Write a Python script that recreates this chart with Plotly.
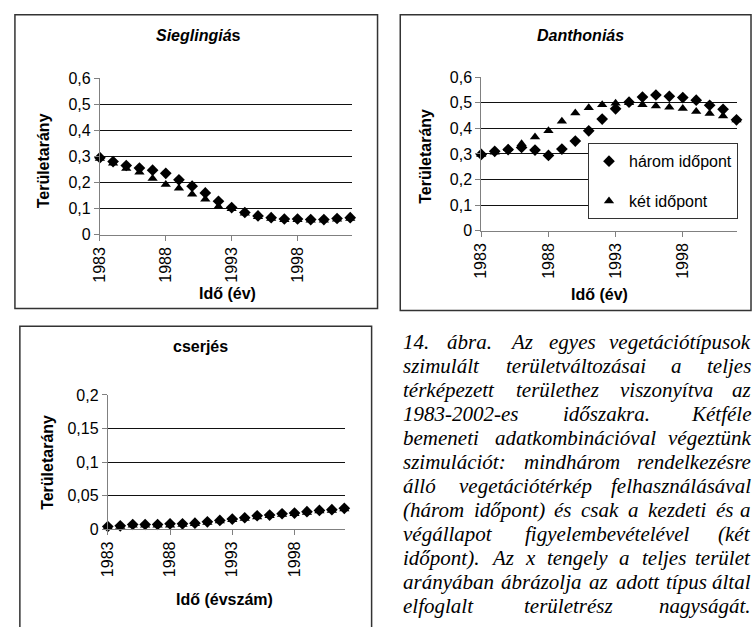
import plotly.graph_objects as go

# ---------------- data ----------------
years = list(range(1983, 2003))

sieg_harom = [0.295, 0.280, 0.265, 0.255, 0.247, 0.235, 0.210, 0.186, 0.160, 0.128,
              0.104, 0.085, 0.072, 0.065, 0.060, 0.060, 0.058, 0.058, 0.062, 0.065]
sieg_ket = [0.292, 0.274, 0.254, 0.239, 0.215, 0.192, 0.178, 0.155, 0.136, 0.108,
            0.099, 0.082, 0.069, 0.062, 0.057, 0.057, 0.055, 0.055, 0.059, 0.062]

danth_harom = [0.298, 0.310, 0.317, 0.325, 0.315, 0.294, 0.319, 0.350, 0.390, 0.436,
               0.476, 0.502, 0.522, 0.530, 0.525, 0.520, 0.510, 0.490, 0.474, 0.433]
danth_ket = [0.298, 0.307, 0.320, 0.340, 0.366, 0.390, 0.428, 0.460, 0.480, 0.492,
             0.498, 0.500, 0.492, 0.487, 0.482, 0.477, 0.466, 0.458, 0.448, 0.432]

cserj_harom = [0.004, 0.005, 0.007, 0.007, 0.007, 0.008, 0.008, 0.009, 0.011, 0.013,
               0.015, 0.017, 0.020, 0.021, 0.023, 0.024, 0.026, 0.028, 0.029, 0.031]
cserj_ket = [0.003, 0.004, 0.006, 0.006, 0.006, 0.006, 0.007, 0.008, 0.010, 0.012,
             0.014, 0.016, 0.018, 0.020, 0.022, 0.023, 0.025, 0.027, 0.028, 0.030]

x_tickvals = [1983, 1988, 1993, 1998]
x_ticktext = ["1983", "1988", "1993", "1998"]
y_tickvals_a = [0, 0.1, 0.2, 0.3, 0.4, 0.5, 0.6]
y_ticktext_a = ["0", "0,1", "0,2", "0,3", "0,4", "0,5", "0,6"]
y_tickvals_c = [0, 0.05, 0.1, 0.15, 0.2]
y_ticktext_c = ["0", "0,05", "0,1", "0,15", "0,2"]

series_names = ["három időpont", "két időpont"]
chart_titles = ["<i>Sieglingiá</i>s", "<i>Danthoniás</i>", "cserjés"]
y_title = "Területarány"
x_titles = ["Idő (év)", "Idő (év)", "Idő (évszám)"]

caption_lines = [
    "14. ábra. Az egyes vegetációtípusok",
    "szimulált területváltozásai a teljes",
    "térképezett területhez viszonyítva az",
    "1983-2002-es időszakra. Kétféle",
    "bemeneti adatkombinációval végeztünk",
    "szimulációt: mindhárom rendelkezésre",
    "álló vegetációtérkép felhasználásával",
    "(három időpont) és csak a kezdeti és a",
    "végállapot figyelembevételével (két",
    "időpont). Az x tengely a teljes terület",
    "arányában ábrázolja az adott típus által",
    "elfoglalt területrész nagyságát.",
]

# ---------------- layout helpers ----------------
W, H = 752, 627
SANS = "Liberation Sans, Arial, sans-serif"
SERIF = "Liberation Serif, Times New Roman, serif"


def px(x):
    return x / W


def py(y):
    return 1 - y / H


fig = go.Figure()

marker_d = dict(symbol="diamond", size=9, color="black")
marker_t = dict(symbol="triangle-up", size=9, color="black")

panels = [
    (sieg_harom, sieg_ket, "x", "y", False),
    (danth_harom, danth_ket, "x2", "y2", True),
    (cserj_harom, cserj_ket, "x3", "y3", False),
]
for h, k, xa, ya, leg in panels:
    fig.add_trace(go.Scatter(x=years, y=k, mode="markers", marker=marker_t,
                             name=series_names[1], xaxis=xa, yaxis=ya,
                             showlegend=leg, legendgroup="b", legendrank=2,
                             cliponaxis=False))
    fig.add_trace(go.Scatter(x=years, y=h, mode="markers", marker=marker_d,
                             name=series_names[0], xaxis=xa, yaxis=ya,
                             showlegend=leg, legendgroup="a", legendrank=1,
                             cliponaxis=False))

tickfont = dict(family=SANS, size=16, color="black")


def xaxis(dom, endx):
    return dict(domain=dom, range=[1983, endx], tickvals=x_tickvals, ticktext=x_ticktext,
                tickangle=-90, showline=True, linecolor="#808080", linewidth=1,
                ticks="outside", ticklen=5, tickcolor="#808080", showgrid=False,
                zeroline=False, tickfont=tickfont, fixedrange=True)


def yaxis(dom, rng, tv, tt, anchor):
    return dict(domain=dom, range=rng, tickvals=tv, ticktext=tt, anchor=anchor,
                showline=True, linecolor="#808080", linewidth=1, ticks="outside",
                ticklen=5, tickcolor="#808080", showgrid=True, gridcolor="#111",
                gridwidth=1, zeroline=False, tickfont=tickfont, fixedrange=True)


fig.update_layout(
    width=W, height=H, margin=dict(l=0, r=0, t=0, b=0),
    paper_bgcolor="white", plot_bgcolor="white",
    xaxis=dict(xaxis([px(92), px(346.7)], 2002.1), anchor="y"),
    yaxis=yaxis([py(233), py(72)], [0, 0.6], y_tickvals_a, y_ticktext_a, "x"),
    xaxis2=dict(xaxis([px(478), px(737)], 2002.05), anchor="y2"),
    yaxis2=yaxis([py(229), py(71)], [0, 0.6], y_tickvals_a, y_ticktext_a, "x2"),
    xaxis3=dict(xaxis([px(100), px(340)], 2002.05), anchor="y3"),
    yaxis3=yaxis([py(535.7), py(397.7)], [0, 0.2], y_tickvals_c, y_ticktext_c, "x3"),
    legend=dict(x=px(586), y=py(139), xanchor="left", yanchor="top",
                bgcolor="white", bordercolor="#333", borderwidth=1,
                font=dict(family=SANS, size=16, color="black"),
                traceorder="grouped", tracegroupgap=16, itemwidth=30),
    showlegend=True,
)

# frames
for x0, y0, x1, y1 in [(6, 7, 373, 309), (396, 7, 751, 311), (11, 327, 367, 660)]:
    fig.add_shape(type="rect", xref="paper", yref="paper",
                  x0=px(x0), y0=py(y1), x1=px(x1), y1=py(y0),
                  line=dict(color="#333", width=1.5), fillcolor="rgba(0,0,0,0)")


def label(txt, x, y, angle=0):
    fig.add_annotation(text="<b>" + txt + "</b>", x=px(x), y=py(y), xref="paper",
                       yref="paper", xanchor="center", yanchor="middle",
                       showarrow=False, textangle=angle,
                       font=dict(family=SANS, size=16, color="black"))


for txt, (x, y) in zip(chart_titles, [(192, 28), (578, 28), (194, 348)]):
    label(txt, x, y)
for (x, y) in [(35, 157), (422, 152), (39, 467)]:
    label(y_title, x, y, -90)
for txt, (x, y) in zip(x_titles, [(221, 293), (598, 294), (218, 608)]):
    label(txt, x, y)

# ---------------- justified caption ----------------
CW = {" ": 250, "a": 500, "b": 500, "c": 444, "d": 500, "e": 444, "f": 278, "g": 500,
      "h": 500, "i": 278, "j": 278, "k": 444, "l": 278, "m": 722, "n": 500, "o": 500,
      "p": 500, "q": 500, "r": 389, "s": 389, "t": 278, "u": 500, "v": 444, "w": 667,
      "x": 444, "y": 444, "z": 389, "A": 611, "K": 667, ".": 250, ",": 250, ":": 333,
      "-": 333, "(": 333, ")": 333}
BASE = {"á": "a", "é": "e", "í": "i", "ó": "o", "ő": "o", "ö": "o", "ú": "u", "ü": "u",
        "ű": "u"}


def wwidth(word, size):
    tot = 0
    for ch in word:
        if ch.isdigit():
            tot += 500
        else:
            tot += CW.get(BASE.get(ch, ch), 500)
    return tot * size / 1000.0


FS = 21
LEFT, RIGHT = 398, 752
for i, line in enumerate(caption_lines):
    words = line.split(" ")
    widths = [wwidth(w, FS) for w in words]
    gap = (RIGHT - LEFT - sum(widths)) / (len(words) - 1)
    ymid = 350 + 24.7 * i - 0.34 * FS
    xpos = LEFT
    for j, w in enumerate(words):
        last = j == len(words) - 1
        fig.add_annotation(text=w, x=px(RIGHT if last else xpos), y=py(ymid),
                           xref="paper", yref="paper",
                           xanchor="right" if last else "left", yanchor="middle",
                           showarrow=False, borderpad=0,
                           font=dict(family=SERIF, size=FS, color="black", style="italic"))
        xpos += widths[j] + gap

fig.write_html("out.html", config={"displayModeBar": False})
